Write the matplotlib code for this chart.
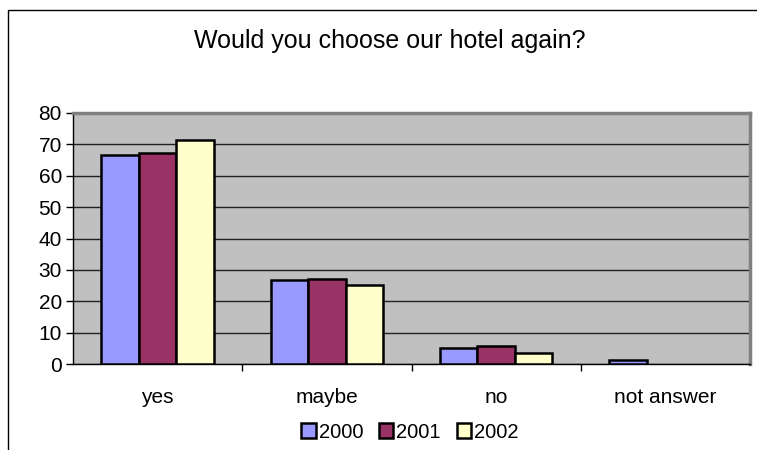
import numpy as np
import matplotlib
matplotlib.use("Agg")
import matplotlib.pyplot as plt
from matplotlib.patches import Rectangle

categories = ["yes", "maybe", "no", "not answer"]
years = ["2000", "2001", "2002"]
values_2000 = [66.7, 26.8, 5.0, 1.2]
values_2001 = [67.2, 27.0, 5.8, 0.0]
values_2002 = [71.4, 25.1, 3.6, 0.0]
colors = ["#9999FF", "#993366", "#FFFFCC"]

plt.rcParams["font.family"] = ["Liberation Sans", "DejaVu Sans"]

W, H = 757, 450
fig = plt.figure(figsize=(W / 100, H / 100), dpi=100)

# outer chart frame (only top and left edges fall inside the image)
fig.add_artist(Rectangle((8 / W, -0.1), 1.2, 1 - 10 / H + 0.1,
                         transform=fig.transFigure, fill=False,
                         edgecolor="black", linewidth=1.0))

ax = fig.add_axes([73 / W, 1 - 364 / H, (750 - 73) / W, (364 - 113) / H])
ax.set_facecolor("#C0C0C0")

x = np.arange(len(categories))
bw = 0.222
series = [values_2000, values_2001, values_2002]
for i, (vals, c, yr) in enumerate(zip(series, colors, years)):
    xs, hs = [], []
    for xi, v in zip(x, vals):
        if v > 0:
            xs.append(xi + (i - 1) * bw)
            hs.append(v)
    ax.bar(xs, hs, width=bw, color=c, edgecolor="black", linewidth=1.8,
           label=yr, zorder=3)

ax.set_xlim(-0.5, len(categories) - 0.5)
ax.set_ylim(0, 80)
ax.set_yticks(np.arange(0, 81, 10))
ax.yaxis.grid(True, color="#202020", linewidth=1.0, zorder=1)
ax.set_axisbelow(True)

ax.set_xticks(x)
ax.set_xticklabels(categories, fontsize=15)
ax.set_xticks(np.arange(0.5, len(categories) - 0.5, 1.0), minor=True)
ax.tick_params(axis="x", which="major", length=0, pad=17)
ax.tick_params(axis="x", which="minor", length=5, width=1, color="black")
ax.tick_params(axis="y", length=5, width=1, labelsize=15, pad=3)

for side in ["top", "right"]:
    ax.spines[side].set_color("#808080")
    ax.spines[side].set_linewidth(2.5)
for side in ["left", "bottom"]:
    ax.spines[side].set_color("black")
    ax.spines[side].set_linewidth(1.0)

fig.text(390 / W, 1 - 41 / H, "Would you choose our hotel again?",
         ha="center", va="center", fontsize=18)

leg = fig.legend(loc="center", bbox_to_anchor=(410 / W, 1 - 432 / H), ncol=3,
                 frameon=False, fontsize=14.5, handlelength=0.7, handleheight=0.7,
                 handletextpad=0.15, columnspacing=0.8, borderpad=0)

fig.savefig("out.png", dpi=100)
